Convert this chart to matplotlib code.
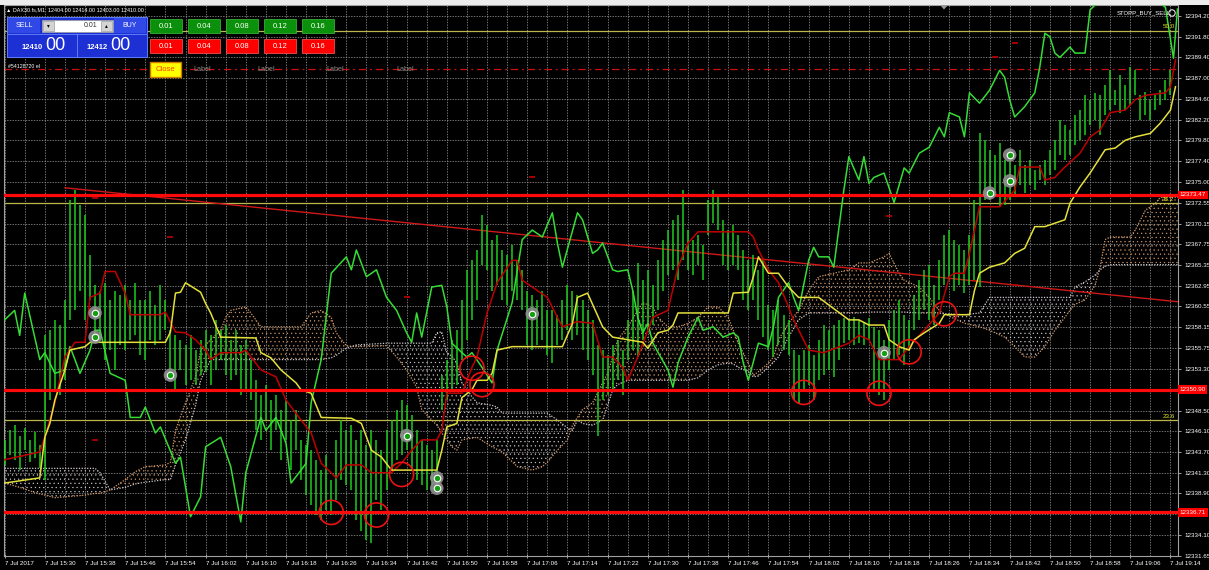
import numpy as np
import matplotlib
matplotlib.use("Agg")
import matplotlib.pyplot as plt
from matplotlib.patches import Rectangle, Ellipse, Polygon, Circle

plt.rcParams['font.family'] = ['Liberation Sans', 'DejaVu Sans']
plt.rcParams['hatch.linewidth'] = 0.35

# ---------------- data (time axis: minutes after 15:22, price axis) ----------------
# one-minute bars (high, low), starting at minute 0
bars = [
    (12345.1, 12342.2), (12346.2, 12343.3), (12346.8, 12342.8), (12345.6, 12341.6), (12346.5, 12343.9), (12345.1, 12342.5), (12346.0, 12343.0), (12344.5, 12341.8),
    (12357.2, 12340.5), (12357.8, 12349.7), (12359.0, 12350.9), (12358.4, 12350.3), (12361.3, 12352.0), (12372.9, 12359.0), (12374.0, 12360.1), (12372.3, 12362.4),
    (12371.1, 12359.0), (12366.5, 12361.3), (12363.0, 12357.2), (12362.4, 12356.7), (12363.3, 12354.4), (12361.3, 12355.5), (12362.4, 12353.2), (12361.9, 12356.1),
    (12363.0, 12355.5), (12361.3, 12356.7), (12363.3, 12357.2), (12361.3, 12354.9), (12361.3, 12354.4), (12362.4, 12356.7), (12360.7, 12356.1), (12363.0, 12356.7),
    (12361.3, 12357.8), (12357.8, 12352.0), (12357.2, 12350.9), (12356.7, 12353.2), (12356.1, 12351.5), (12357.2, 12352.0), (12355.5, 12351.5), (12356.7, 12352.6),
    (12357.8, 12353.0), (12357.2, 12351.5), (12359.0, 12353.2), (12357.8, 12354.4), (12358.4, 12352.6), (12356.7, 12352.0), (12357.8, 12352.6), (12356.1, 12350.3),
    (12356.7, 12350.9), (12354.4, 12349.7), (12352.0, 12346.2), (12350.3, 12345.1), (12351.5, 12347.4), (12349.7, 12343.9), (12350.3, 12346.2), (12348.6, 12342.8),
    (12349.7, 12345.1), (12347.4, 12341.6), (12348.6, 12343.9), (12345.1, 12340.5), (12344.5, 12338.7), (12343.9, 12337.5), (12342.8, 12336.4), (12341.6, 12335.8),
    (12343.3, 12337.0), (12340.5, 12336.4), (12345.1, 12338.1), (12347.4, 12340.5), (12346.2, 12339.9), (12346.8, 12339.3), (12345.1, 12335.8), (12346.2, 12334.6),
    (12344.5, 12333.5), (12346.2, 12333.1), (12345.1, 12338.1), (12343.9, 12337.0), (12346.2, 12339.3), (12347.4, 12341.6), (12348.6, 12342.8), (12349.7, 12343.3),
    (12349.1, 12343.9), (12348.0, 12341.6), (12346.2, 12340.5), (12345.1, 12339.9), (12344.5, 12339.3), (12343.9, 12339.9), (12345.1, 12339.3), (12352.6, 12348.6),
    (12354.4, 12349.7), (12356.7, 12350.9), (12357.8, 12351.5), (12361.3, 12354.4), (12364.8, 12356.7), (12365.9, 12359.0), (12367.1, 12361.3), (12371.1, 12365.4),
    (12370.0, 12364.8), (12368.3, 12362.4), (12368.8, 12363.0), (12367.1, 12361.3), (12366.5, 12360.7), (12367.7, 12362.4), (12365.9, 12361.3), (12364.8, 12360.1),
    (12362.4, 12356.1), (12361.9, 12355.5), (12361.3, 12356.1), (12362.4, 12356.7), (12360.1, 12354.9), (12360.1, 12354.0), (12359.6, 12356.1), (12361.3, 12356.7),
    (12363.0, 12357.8), (12362.4, 12356.7), (12361.9, 12357.2), (12361.3, 12355.5), (12360.1, 12354.4), (12359.0, 12352.6), (12356.1, 12345.6), (12355.5, 12349.7),
    (12354.9, 12350.3), (12356.1, 12350.9), (12356.7, 12352.0), (12355.5, 12350.3), (12359.0, 12354.4), (12362.4, 12355.5), (12365.6, 12354.7), (12363.6, 12356.7),
    (12364.8, 12357.8), (12363.0, 12358.4), (12365.9, 12360.1), (12368.3, 12362.4), (12369.4, 12364.2), (12370.6, 12364.8), (12371.1, 12363.6), (12374.0, 12365.9),
    (12369.4, 12364.8), (12368.3, 12364.2), (12368.8, 12365.4), (12367.7, 12363.6), (12372.9, 12368.8), (12374.0, 12370.2), (12373.5, 12369.4), (12370.6, 12365.4),
    (12369.4, 12364.8), (12370.0, 12365.4), (12368.8, 12364.8), (12367.1, 12361.3), (12365.9, 12360.1), (12366.5, 12361.3), (12364.8, 12359.0), (12365.9, 12357.0),
    (12360.7, 12355.5), (12360.1, 12354.7), (12361.3, 12356.1), (12359.6, 12355.5), (12359.0, 12354.9), (12355.5, 12349.7), (12354.9, 12349.4), (12355.5, 12350.9),
    (12356.1, 12351.5), (12354.9, 12349.7), (12356.7, 12352.0), (12358.4, 12352.6), (12357.8, 12353.2), (12358.4, 12352.4), (12359.0, 12354.4), (12359.2, 12356.3),
    (12359.0, 12356.7), (12359.3, 12356.1), (12359.0, 12356.3), (12358.8, 12356.1), (12359.2, 12356.7), (12358.2, 12350.9), (12357.8, 12350.3), (12356.7, 12349.7),
    (12359.0, 12353.2), (12360.1, 12354.4), (12361.3, 12354.9), (12359.6, 12353.8), (12359.0, 12355.5), (12361.9, 12357.8), (12363.6, 12359.0), (12364.8, 12360.1),
    (12365.4, 12359.0), (12363.0, 12358.4), (12365.9, 12361.3), (12368.8, 12363.0), (12369.4, 12363.6), (12368.3, 12362.4), (12367.7, 12363.0), (12367.1, 12362.1),
    (12368.8, 12363.0), (12372.9, 12363.6), (12380.6, 12362.8), (12379.8, 12372.9), (12378.7, 12372.9), (12378.1, 12374.0), (12379.5, 12372.1), (12377.5, 12372.3),
    (12378.7, 12372.9), (12376.9, 12373.5), (12378.7, 12374.6), (12376.9, 12373.7), (12377.5, 12374.6), (12376.4, 12374.0), (12376.9, 12375.2), (12377.5, 12374.6),
    (12378.7, 12375.8), (12379.8, 12376.4), (12382.2, 12378.1), (12381.6, 12377.5), (12381.0, 12378.1), (12382.7, 12379.3), (12383.3, 12379.8), (12385.0, 12380.4),
    (12384.5, 12381.6), (12385.3, 12382.2), (12385.0, 12380.4), (12386.2, 12382.7), (12387.9, 12383.3), (12385.6, 12383.9), (12387.4, 12383.0), (12386.2, 12383.3),
    (12388.3, 12383.9), (12387.9, 12385.0), (12385.0, 12382.2), (12385.4, 12382.7), (12384.5, 12382.2), (12385.0, 12383.3), (12385.6, 12383.9), (12386.8, 12384.5),
    (12387.9, 12385.0),
]

# lagging span (bright green line): (minute, price)
chikou = [
    (0, 12359.0), (2, 12360.1), (3, 12357.2), (4, 12362.1), (7, 12354.4), (8, 12355.2), (10, 12352.8), (12, 12353.2),
    (13, 12355.9), (14, 12354.4), (15, 12352.8), (17, 12355.5), (18, 12357.8), (19, 12357.8), (21, 12352.8), (24, 12352.0),
    (25, 12347.7), (27, 12347.7), (28, 12348.9), (30, 12345.9), (31, 12346.6), (34, 12342.4), (35, 12343.1), (37, 12336.2),
    (39, 12338.5), (40, 12344.3), (43, 12345.4), (45, 12342.0), (47, 12335.6), (48, 12341.3), (51, 12347.7), (52, 12346.2),
    (54, 12347.7), (56, 12344.7), (57, 12340.1), (59, 12341.6), (60, 12342.4), (61, 12349.4), (63, 12354.4), (65, 12364.4),
    (68, 12366.3), (69, 12364.8), (70, 12367.1), (72, 12364.0), (74, 12364.8), (76, 12361.6), (78, 12360.1), (80, 12357.5),
    (81, 12356.4), (82, 12359.8), (83, 12357.0), (85, 12362.8), (87, 12363.0), (88, 12360.5), (89, 12356.3), (91, 12355.2),
    (92, 12354.7), (93, 12355.2), (95, 12353.5), (97, 12351.7), (98, 12355.5), (101, 12361.0), (103, 12368.3), (105, 12369.4),
    (107, 12368.6), (109, 12371.4), (110, 12367.9), (111, 12365.1), (114, 12371.4), (115, 12370.6), (117, 12366.7), (118, 12367.1),
    (119, 12367.9), (121, 12364.8), (122, 12364.6), (124, 12364.8), (125, 12362.4), (126, 12359.3), (127, 12357.5), (128, 12358.6),
    (129, 12356.3), (132, 12353.2), (133, 12351.2), (134, 12354.0), (136, 12357.0), (138, 12359.3), (139, 12357.8), (141, 12358.2),
    (143, 12357.0), (145, 12357.5), (146, 12357.0), (147, 12354.0), (148, 12352.0), (150, 12356.3), (152, 12355.9), (153, 12358.2),
    (154, 12361.6), (156, 12363.3), (157, 12361.6), (158, 12360.1), (160, 12365.9), (161, 12367.4), (162, 12366.3), (164, 12366.3),
    (165, 12365.1), (167, 12374.0), (168, 12377.9), (170, 12375.2), (171, 12377.9), (172, 12374.8), (173, 12375.5), (175, 12376.0),
    (177, 12372.6), (179, 12376.6), (180, 12376.0), (182, 12378.3), (184, 12379.0), (186, 12381.3), (187, 12380.2), (188, 12383.0),
    (190, 12382.5), (191, 12380.2), (192, 12385.3), (194, 12384.1), (196, 12385.6), (198, 12387.9), (199, 12387.1), (200, 12384.5),
    (201, 12382.5), (203, 12383.7), (205, 12385.3), (206, 12388.3), (207, 12392.2), (208, 12391.8), (209, 12389.9), (210, 12389.4),
    (212, 12390.6), (213, 12389.9), (215, 12389.9), (216, 12394.9), (219, 12396.6), (228, 12396.6), (231, 12395.2), (232.6, 12389.3),
    (233.4, 12395.0),
]

# base line (dark red)
kijun = [
    (0, 12342.8), (7, 12343.7), (8, 12345.4), (10, 12349.4), (12, 12354.7), (14, 12356.4), (16, 12356.4), (17, 12361.6),
    (19, 12362.1), (20, 12364.6), (22, 12364.6), (24, 12362.1), (25, 12359.6), (31, 12359.6), (32, 12359.9), (34, 12357.6),
    (36, 12357.5), (38, 12356.7), (40, 12355.5), (41, 12354.4), (43, 12355.2), (47, 12355.2), (48, 12355.5), (51, 12353.2),
    (54, 12352.4), (56, 12349.7), (59, 12347.4), (61, 12345.9), (63, 12342.4), (66, 12340.7), (68, 12342.2), (71, 12342.2),
    (73, 12341.3), (77, 12341.3), (79, 12342.4), (81, 12343.9), (83, 12345.1), (86, 12345.1), (87, 12346.2), (88, 12350.5),
    (91, 12350.5), (93, 12353.5), (94, 12354.7), (96, 12359.8), (98, 12363.3), (101, 12365.9), (102, 12365.9), (103, 12363.6),
    (106, 12362.4), (108, 12361.6), (110, 12359.3), (111, 12358.2), (114, 12358.8), (117, 12358.6), (119, 12354.7), (121, 12354.7),
    (123, 12353.5), (124, 12352.0), (126, 12354.7), (129, 12359.3), (132, 12360.1), (134, 12365.1), (136, 12367.9), (138, 12369.2),
    (148, 12369.2), (149, 12368.6), (150, 12367.1), (152, 12364.8), (154, 12363.3), (156, 12360.5), (157, 12359.0), (160, 12355.5),
    (163, 12355.2), (168, 12356.3), (170, 12357.2), (172, 12356.7), (174, 12354.4), (178, 12354.4), (180, 12355.9), (183, 12357.8),
    (186, 12359.8), (188, 12364.0), (189, 12364.4), (191, 12364.4), (192, 12366.7), (194, 12372.1), (198, 12372.1), (201, 12374.0),
    (202, 12376.7), (206, 12376.7), (207, 12375.2), (209, 12375.5), (211, 12376.7), (214, 12378.3), (216, 12380.2), (218, 12381.0),
    (220, 12383.0), (223, 12383.3), (225, 12384.5), (227, 12385.0), (231, 12385.3), (232, 12386.0), (233, 12389.1),
]

# conversion line (yellow)
tenkan = [
    (0, 12340.1), (7, 12340.7), (8, 12345.4), (9, 12347.0), (10, 12349.7), (12, 12353.2), (13, 12355.5), (16, 12355.9),
    (17, 12356.4), (32, 12356.4), (33, 12357.6), (34, 12362.1), (35, 12362.2), (36, 12363.3), (39, 12362.2), (40, 12360.9),
    (41, 12359.8), (43, 12357.0), (50, 12356.9), (51, 12355.2), (53, 12354.6), (55, 12353.2), (58, 12351.7), (59, 12350.9),
    (61, 12350.5), (63, 12347.7), (69, 12347.6), (71, 12347.0), (73, 12343.9), (75, 12343.1), (77, 12341.6), (86, 12341.6),
    (87, 12343.9), (88, 12346.6), (90, 12347.0), (91, 12350.0), (93, 12350.9), (94, 12352.0), (96, 12352.0), (97, 12352.8),
    (98, 12355.5), (101, 12355.9), (111, 12355.9), (113, 12358.6), (114, 12361.6), (116, 12362.1), (119, 12358.2), (121, 12357.0),
    (127, 12356.4), (128, 12355.7), (130, 12357.5), (132, 12357.8), (133, 12358.4), (134, 12359.8), (144, 12359.8), (145, 12362.1),
    (148, 12362.2), (149, 12364.0), (150, 12366.3), (152, 12364.4), (154, 12364.4), (156, 12362.8), (158, 12361.6), (162, 12361.6),
    (168, 12359.0), (170, 12359.0), (172, 12358.4), (175, 12358.4), (176, 12356.7), (178, 12355.9), (180, 12355.5), (181, 12356.7),
    (183, 12357.5), (186, 12358.6), (187, 12359.6), (192, 12359.6), (193, 12362.4), (194, 12364.4), (196, 12365.1), (199, 12365.6),
    (201, 12366.7), (203, 12367.3), (205, 12369.8), (207, 12369.8), (211, 12370.6), (212, 12372.5), (214, 12374.4), (216, 12376.0),
    (219, 12378.7), (221, 12378.9), (223, 12379.8), (225, 12380.2), (228, 12380.6), (230, 12381.8), (232, 12383.3), (233, 12386.0),
]

# cloud: (minute, span A, span B)
cloud = [
    (0, 12340.1, 12341.8), (3, 12339.6, 12341.8), (6, 12339.0, 12341.8), (10, 12338.4, 12341.8), (12, 12338.5, 12341.8),
    (16, 12338.7, 12341.8), (18, 12338.9, 12341.8), (19, 12338.9, 12341.3), (21, 12339.3, 12339.3), (24, 12340.5, 12339.6),
    (26, 12341.4, 12340.0), (28, 12342.0, 12340.2), (32, 12342.2, 12340.5), (33, 12342.5, 12340.5), (34, 12346.2, 12342.2),
    (36, 12349.4, 12345.1), (38, 12352.4, 12349.1), (39, 12355.5, 12352.0), (41, 12356.7, 12354.4), (43, 12357.8, 12354.4),
    (44, 12359.3, 12354.4), (45, 12360.1, 12354.4), (48, 12360.5, 12354.4), (49, 12359.8, 12354.4), (51, 12358.2, 12354.4),
    (59, 12358.2, 12354.4), (61, 12359.8, 12354.4), (63, 12360.1, 12354.4), (65, 12359.3, 12354.6), (66, 12357.5, 12354.9),
    (68, 12356.0, 12355.7), (70, 12355.9, 12356.1), (76, 12356.0, 12356.3), (78, 12354.7, 12356.3), (80, 12353.2, 12356.3),
    (82, 12351.2, 12356.3), (83, 12348.6, 12356.3), (85, 12347.4, 12356.3), (86, 12346.8, 12357.5), (87, 12345.9, 12357.6),
    (88, 12345.1, 12355.2), (89, 12344.3, 12354.8), (90, 12343.9, 12354.0), (91, 12345.1, 12351.7), (93, 12345.3, 12350.1),
    (94, 12345.4, 12349.4), (97, 12344.3, 12349.1), (98, 12344.0, 12348.9), (99, 12343.7, 12348.2), (102, 12342.0, 12348.2),
    (105, 12341.6, 12348.2), (107, 12342.0, 12348.2), (108, 12342.5, 12348.2), (110, 12343.9, 12347.4), (112, 12345.1, 12346.5),
    (113, 12346.8, 12346.2), (114, 12347.7, 12347.4), (115, 12348.6, 12347.0), (117, 12349.4, 12346.8), (119, 12351.7, 12347.4),
    (120, 12352.8, 12349.1), (121, 12354.7, 12350.9), (122, 12356.7, 12351.5), (124, 12358.2, 12352.0), (126, 12360.1, 12352.0),
    (127, 12361.0, 12352.0), (129, 12360.5, 12352.0), (130, 12359.3, 12352.0), (132, 12358.2, 12352.0), (134, 12358.2, 12352.0),
    (136, 12358.6, 12352.0), (138, 12359.3, 12352.3), (140, 12360.5, 12353.2), (142, 12360.5, 12353.8), (144, 12359.3, 12354.0),
    (145, 12357.8, 12353.9), (146, 12356.3, 12353.5), (148, 12354.0, 12353.0), (149, 12352.6, 12352.4), (150, 12353.0, 12352.5),
    (152, 12354.0, 12353.5), (153, 12354.7, 12354.1), (154, 12356.7, 12354.7), (156, 12358.6, 12357.0), (158, 12360.1, 12359.0),
    (160, 12362.4, 12359.8), (162, 12364.0, 12359.8), (165, 12364.4, 12359.8), (168, 12364.8, 12359.8), (170, 12365.6, 12359.8),
    (172, 12365.6, 12359.9), (175, 12366.3, 12359.9), (176, 12366.7, 12359.9), (178, 12364.4, 12359.9), (179, 12363.6, 12359.9),
    (182, 12362.8, 12359.8), (184, 12361.6, 12359.8), (186, 12360.1, 12359.8), (187, 12359.7, 12359.7), (191, 12358.6, 12359.6),
    (194, 12358.2, 12359.8), (196, 12357.8, 12361.6), (199, 12357.0, 12361.6), (201, 12355.9, 12361.6), (203, 12354.7, 12361.6),
    (205, 12354.7, 12361.6), (207, 12355.9, 12361.6), (209, 12357.8, 12361.6), (211, 12359.3, 12361.6), (212, 12360.1, 12361.6),
    (213, 12360.8, 12362.8), (215, 12361.3, 12363.4), (217, 12363.0, 12364.2), (218, 12365.1, 12364.8), (219, 12368.3, 12365.2),
    (220, 12368.6, 12365.4), (224, 12368.6, 12365.4), (225, 12369.4, 12365.4), (227, 12371.7, 12365.4), (228, 12372.1, 12365.4),
    (229, 12372.5, 12365.4), (230, 12373.2, 12365.4), (233.5, 12373.2, 12365.4),
]

support_levels = [12373.47, 12350.90, 12336.71]
fib_levels = [12392.5, 12372.5, 12347.4]
fib_labels = ['50.0', '38.2', '23.6']
order_level = 12388.1
trend_t = [12, 233.5]
trend_p = [12374.3, 12361.1]
signals = [(18, 12359.8), (18, 12357.0), (33, 12352.6), (80, 12345.6), (86, 12340.7), (86, 12339.5),
           (105, 12359.7), (175, 12355.2), (196, 12373.7), (200, 12378.1), (200, 12375.1)]
hand_circles = [(65, 12336.7), (74, 12336.4), (79, 12341.1), (93, 12353.4), (95, 12351.5),
                (159, 12350.6), (174, 12350.5), (180, 12355.3), (187, 12359.7)]
order_marks = [(18, 12373.1), (33, 12368.6), (18, 12345.1), (80, 12361.6), (105, 12375.5),
               (176, 12371.0), (201, 12391.1), (197, 12389.4), (201, 12363.0)]

x_tick_minutes = list(range(0, 233, 8))
x_tick_labels = ["7 Jul 2017", "7 Jul 15:30", "7 Jul 15:38", "7 Jul 15:46", "7 Jul 15:54", "7 Jul 16:02",
                 "7 Jul 16:10", "7 Jul 16:18", "7 Jul 16:26", "7 Jul 16:34", "7 Jul 16:42", "7 Jul 16:50",
                 "7 Jul 16:58", "7 Jul 17:06", "7 Jul 17:14", "7 Jul 17:22", "7 Jul 17:30", "7 Jul 17:38",
                 "7 Jul 17:46", "7 Jul 17:54", "7 Jul 18:02", "7 Jul 18:10", "7 Jul 18:18", "7 Jul 18:26",
                 "7 Jul 18:34", "7 Jul 18:42", "7 Jul 18:50", "7 Jul 18:58", "7 Jul 19:06", "7 Jul 19:14"]
y_tick_values = [12394.20, 12391.80, 12389.40, 12387.00, 12384.60, 12382.20, 12379.80, 12377.40, 12375.00,
                 12372.55, 12370.15, 12367.75, 12365.35, 12362.95, 12360.55, 12358.15, 12355.75, 12353.30,
                 12350.90, 12348.50, 12346.10, 12343.70, 12341.30, 12338.90, 12336.50, 12334.10, 12331.65]
y_tick_labels = [f"{v:.2f}" for v in y_tick_values]

lot_sizes = ['0.01', '0.04', '0.08', '0.12', '0.16']

# ---------------- figure ----------------
W, H = 1209, 570
fig = plt.figure(figsize=(W / 100, H / 100), dpi=100, facecolor='black')
ax = fig.add_axes([4 / W, 14 / H, 1174 / W, 551 / H])
ax.set_facecolor('black')
ax.set_xlim(-0.12, 233.5)
ax.set_ylim(12331.65, 12395.47)

grid_kw = dict(color='#8c8c8c', lw=0.6, ls=(0, (1.6, 1.6)), zorder=0)
for m in range(0, 234, 4):
    ax.axvline(m, **grid_kw)
for v in y_tick_values:
    ax.axhline(v, **grid_kw)

# cloud
ct = np.array([c[0] for c in cloud], dtype=float)
ca = np.array([c[1] for c in cloud])
cb = np.array([c[2] for c in cloud])
tan, thistle = '#d39a6a', '#cfc6cf'
ax.fill_between(ct, ca, cb, where=ca >= cb, interpolate=True, facecolor='none',
                edgecolor=tan, hatch='....', linewidth=0, zorder=1)
ax.fill_between(ct, ca, cb, where=ca < cb, interpolate=True, facecolor='none',
                edgecolor=thistle, hatch='....', linewidth=0, zorder=1)
ax.plot(ct, ca, color=tan, lw=0.9, ls=(0, (1, 1.2)), zorder=1.5)
ax.plot(ct, cb, color=thistle, lw=0.9, ls=(0, (1, 1.2)), zorder=1.5)

# level lines
for v in fib_levels:
    ax.axhline(v, color='#bdb64a', lw=0.9, zorder=2)
ax.axhline(order_level, color='#cc1010', lw=0.9, ls=(0, (6, 3, 1.5, 3)), zorder=2)
ax.plot(trend_t, trend_p, color='#d01818', lw=1.0, zorder=2)

# bars
bm = np.arange(len(bars))
ax.vlines(bm, [b[1] for b in bars], [b[0] for b in bars], color='#1fcc1f', lw=1.1, zorder=3)

# ichimoku lines
ax.plot([p[0] for p in chikou], [p[1] for p in chikou], color='#36dc36', lw=1.1, zorder=4)
ax.plot([p[0] for p in kijun], [p[1] for p in kijun], color='#c00000', lw=1.1, zorder=4)
ax.plot([p[0] for p in tenkan], [p[1] for p in tenkan], color='#e4e03c', lw=1.1, zorder=4)

for v in support_levels:
    ax.axhline(v, color='#ff0a0a', lw=2.3, zorder=5)

for t, p in hand_circles:
    ax.add_patch(Ellipse((t, p), width=4.8, height=2.8, fill=False, edgecolor='#ee1111', lw=1.2, zorder=6))

ax.scatter([o[0] for o in order_marks], [o[1] for o in order_marks], marker='_', s=25,
           color='#b00000', linewidths=1.3, zorder=6)

sx = [s[0] for s in signals]
sy = [s[1] for s in signals]
ax.scatter(sx, sy, s=95, color='#8f8f8f', alpha=0.9, edgecolors='none', zorder=7)
ax.scatter(sx, sy, s=22, facecolor='#10a010', edgecolors='white', linewidths=0.8, zorder=8)

for v, lab in zip(fib_levels, fib_labels):
    ax.text(232.8, v + 0.15, lab, color='#e8e820', fontsize=4.5, ha='right', va='bottom', zorder=9)

# axes styling; tick labels hidden under the red price boxes are left blank
covered = [any(abs(v - s) < 0.5 for s in support_levels) for v in y_tick_values]
shown_labels = ['' if c else lab for c, lab in zip(covered, y_tick_labels)]
ax.yaxis.tick_right()
ax.set_yticks(y_tick_values)
ax.set_yticklabels(shown_labels, fontsize=4.5, color='white')
ax.set_xticks(x_tick_minutes)
ax.set_xticklabels(x_tick_labels, fontsize=4.5, color='white', ha='left')
ax.tick_params(axis='y', length=2.5, width=0.6, color='#bbbbbb', pad=2)
ax.tick_params(axis='x', length=3, width=0.6, color='#bbbbbb', direction='inout', pad=2)
for s in ax.spines.values():
    s.set_color('#a0a0a0')
    s.set_linewidth(0.8)

ytr = ax.get_yaxis_transform()
for v in support_levels:
    ax.text(1.0012, v, f"{v:.2f}", transform=ytr, fontsize=4.5, color='white', ha='left', va='center',
            clip_on=False, zorder=10,
            bbox=dict(boxstyle='square,pad=0.3', fc='#ff0000', ec='none'))

# ---------------- overlay (trading panel etc.) in pixel coords ----------------
ov = fig.add_axes([0, 0, 1, 1], zorder=10)
ov.set_xlim(0, W)
ov.set_ylim(H, 0)
ov.axis('off')
ov.patch.set_visible(False)

ov.add_patch(Rectangle((0, 0), W, 4.5, fc='#ececec', ec='none'))
ov.text(6, 10, "\u25b2 DAX30.fs,M1  12404.00 12414.00 12403.00 12410.00", fontsize=3.9,
        color='white', va='center', ha='left')

blue = '#1c30d4'
ov.add_patch(Rectangle((7, 17), 140, 40, fc=blue, ec='#5f7dff', lw=0.7))
ov.add_patch(Rectangle((8, 18), 32, 15, fc='#2f48e6', ec='none'))
ov.add_patch(Rectangle((114, 18), 32, 15, fc='#2f48e6', ec='none'))
ov.plot([8, 146], [34, 34], color='#6a88ff', lw=0.6)
ov.plot([77, 77], [34, 56], color='#6a88ff', lw=0.6)
ov.text(24, 25.5, 'SELL', fontsize=5, color='white', ha='center', va='center')
ov.text(130, 25.5, 'BUY', fontsize=5, color='white', ha='center', va='center')
ov.add_patch(Rectangle((42, 20), 71, 11.5, fc='white', ec='#999999', lw=0.5))
ov.add_patch(Rectangle((43, 21), 11, 9.5, fc='#d4d4d4', ec='#888888', lw=0.4))
ov.add_patch(Rectangle((101, 21), 11, 9.5, fc='#d4d4d4', ec='#888888', lw=0.4))
ov.text(48.5, 25.8, '\u25be', fontsize=4, color='black', ha='center', va='center')
ov.text(106.5, 25.8, '\u25b4', fontsize=4, color='black', ha='center', va='center')
ov.text(97, 25.8, '0.01', fontsize=5, color='#333333', ha='right', va='center')
ov.text(43, 49, '12410', fontsize=5.5, color='white', ha='right', va='baseline', fontweight='bold')
ov.text(45, 50, '00', fontsize=13, color='white', ha='left', va='baseline')
ov.text(108, 49, '12412', fontsize=5.5, color='white', ha='right', va='baseline', fontweight='bold')
ov.text(110, 50, '00', fontsize=13, color='white', ha='left', va='baseline')

for i, lot in enumerate(lot_sizes):
    x0 = 150 + 38 * i
    ov.add_patch(Rectangle((x0, 19), 32, 14, fc='#0a900a', ec='#40c040', lw=0.5))
    ov.text(x0 + 16, 26.3, lot, fontsize=5.5, color='white', ha='center', va='center')
    ov.add_patch(Rectangle((x0, 39), 32, 14, fc='#ff0000', ec='#ff6060', lw=0.5))
    ov.text(x0 + 16, 46.3, lot, fontsize=5.5, color='white', ha='center', va='center')

ov.text(8, 66, '#54128720 el', fontsize=3.8, color='white', ha='left', va='center')
ov.add_patch(Rectangle((150, 62), 31, 15, fc='#ffff00', ec='#d07a00', lw=1.0))
ov.text(165.5, 69.8, 'Close', fontsize=5.5, color='#ff3a00', ha='center', va='center')
for lx in [193, 257, 326, 396]:
    ov.text(lx, 69.5, 'Label', fontsize=5.2, color='#8a8a8a', ha='left', va='center')

ov.text(1117, 13, 'STOPP_BUY_SELL', fontsize=4.3, color='white', ha='left', va='center')
ov.add_patch(Circle((1172, 13), 3.2, fill=False, ec='white', lw=0.7))
ov.add_patch(Polygon([[940, 5], [948, 5], [944, 9.5]], closed=True, fc='#9a9a9a', ec='none'))

fig.savefig('out.png', dpi=100, facecolor='black')
